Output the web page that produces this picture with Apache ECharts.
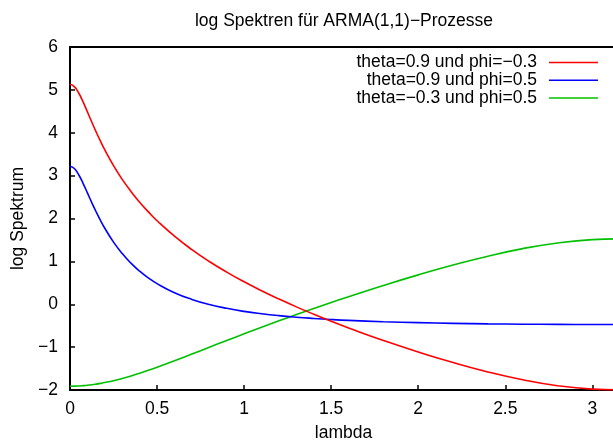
<!DOCTYPE html>
<html>
<head>
<meta charset="utf-8">
<script src="https://cdn.jsdelivr.net/npm/echarts@6/dist/echarts.min.js"></script>
<style>
  html, body { margin: 0; padding: 0; overflow: hidden; background: #ffffff; }
  #chart { width: 618px; height: 441px; }
</style>
</head>
<body>
<div id="chart"></div>
<script>
// Frequencies (radians) at which the log spectra are tabulated
const lambda = [0, 0.025, 0.05, 0.075, 0.1, 0.125, 0.15, 0.175, 0.2, 0.25, 0.3, 0.35, 0.4,
  0.45, 0.5, 0.6, 0.7, 0.8, 0.9, 1.0, 1.1, 1.2, 1.3, 1.4, 1.5, 1.6, 1.8, 2.0, 2.2, 2.4,
  2.6, 2.8, 3.0, 3.1416];

// log spectrum, theta=0.9 und phi=-0.3
const specA = [5.130, 5.075, 4.927, 4.719, 4.487, 4.250, 4.020, 3.803, 3.599, 3.232, 2.912,
  2.631, 2.380, 2.154, 1.948, 1.587, 1.274, 0.998, 0.750, 0.524, 0.316, 0.122, -0.061,
  -0.233, -0.396, -0.552, -0.845, -1.114, -1.359, -1.578, -1.762, -1.900, -1.980, -1.997];

// log spectrum, theta=0.9 und phi=0.5
const specB = [3.219, 3.165, 3.021, 2.821, 2.597, 2.372, 2.157, 1.957, 1.772, 1.450, 1.182,
  0.958, 0.771, 0.614, 0.480, 0.269, 0.113, -0.005, -0.095, -0.166, -0.221, -0.266, -0.302,
  -0.331, -0.356, -0.376, -0.407, -0.429, -0.445, -0.457, -0.465, -0.470, -0.472, -0.473];

// log spectrum, theta=-0.3 und phi=0.5
const specC = [-1.911, -1.910, -1.906, -1.899, -1.890, -1.878, -1.863, -1.846, -1.827, -1.783,
  -1.731, -1.672, -1.608, -1.540, -1.468, -1.317, -1.161, -1.003, -0.845, -0.690, -0.537,
  -0.387, -0.241, -0.099, 0.041, 0.176, 0.438, 0.685, 0.914, 1.121, 1.297, 1.430, 1.508, 1.524];

const seriesNames = ['theta=0.9 und phi=\u22120.3', 'theta=0.9 und phi=0.5', 'theta=\u22120.3 und phi=0.5'];
const seriesValues = [specA, specB, specC];
const seriesColors = ['#ff0000', '#0000ff', '#00c000'];

const xTicks = [0, 0.5, 1, 1.5, 2, 2.5, 3];
const yTicks = [-2, -1, 0, 1, 2, 3, 4, 5, 6];

const titleText = 'log Spektren f\u00fcr ARMA(1,1)\u2212Prozesse';
const xName = 'lambda';
const yName = 'log Spektrum';

const FONT = '"Liberation Sans", Arial, Helvetica, sans-serif';
const FS = 17.5;

const fmt = v => (v < 0 ? '\u2212' + Math.abs(v) : String(v));

const chart = echarts.init(document.getElementById('chart'), null, { renderer: 'canvas' });

const grid = { left: 70, right: 1, top: 47, bottom: 51 };

// Legend drawn as right-aligned text with a line sample to its right
const legendGraphics = [];
seriesNames.forEach((name, i) => {
  const y = 62.5 + i * 17.8;
  legendGraphics.push({
    type: 'text', x: 537, y: y, z: 10,
    style: { text: name, textAlign: 'right', textVerticalAlign: 'middle',
             font: FS + 'px ' + FONT, fill: '#000' }
  });
  legendGraphics.push({
    type: 'line', z: 10,
    shape: { x1: 549, y1: y, x2: 598, y2: y },
    style: { stroke: seriesColors[i], lineWidth: 1.5 }
  });
});

chart.setOption({
  animation: false,
  backgroundColor: '#ffffff',
  title: {
    text: titleText, left: 344, top: 12, textAlign: 'center', padding: 0,
    textStyle: { fontFamily: FONT, fontSize: FS, fontWeight: 'normal', color: '#000' }
  },
  grid: Object.assign({
    show: true, borderColor: '#000', borderWidth: 2, backgroundColor: 'transparent',
    containLabel: false, outerBoundsMode: 'none'
  }, grid),
  xAxis: {
    type: 'value', min: xTicks[0], max: Math.PI, interval: 0.5,
    name: xName, nameLocation: 'middle', nameGap: 34,
    nameTextStyle: { fontFamily: FONT, fontSize: FS, color: '#000' },
    axisLine: { show: false, onZero: false },
    axisTick: { show: true, inside: true, length: 5, lineStyle: { color: '#000', width: 1.5 } },
    axisLabel: {
      margin: 10, fontFamily: FONT, fontSize: FS, color: '#000', showMaxLabel: false,
      formatter: v => (xTicks.some(t => Math.abs(t - v) < 1e-9) ? fmt(v) : '')
    },
    splitLine: { show: false }
  },
  yAxis: {
    type: 'value', min: yTicks[0], max: yTicks[yTicks.length - 1], interval: 1,
    name: yName, nameLocation: 'middle', nameGap: 34,
    nameTextStyle: { fontFamily: FONT, fontSize: FS, color: '#000' },
    axisLine: { show: false, onZero: false },
    axisTick: { show: true, inside: true, length: 5, lineStyle: { color: '#000', width: 1.5 } },
    axisLabel: { margin: 12, fontFamily: FONT, fontSize: FS, color: '#000', formatter: fmt },
    splitLine: { show: false }
  },
  series: seriesNames.map((name, i) => ({
    name: name,
    type: 'line',
    data: lambda.map((x, k) => [x, seriesValues[i][k]]),
    smooth: true,
    showSymbol: false,
    lineStyle: { color: seriesColors[i], width: 1.6 },
    itemStyle: { color: seriesColors[i] },
    z: 3 - i
  })),
  graphic: legendGraphics
});
</script>
</body>
</html>
